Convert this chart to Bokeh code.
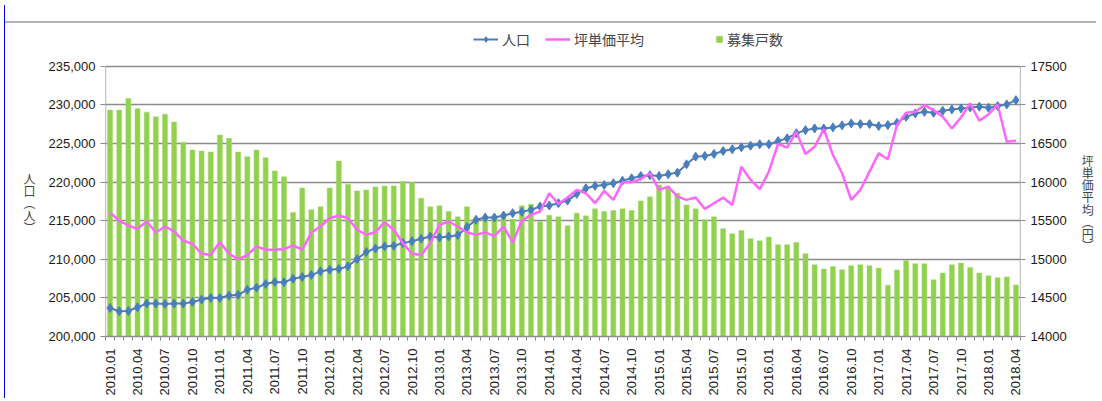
import math
from bokeh.plotting import figure
from bokeh.models import (Range1d, LinearAxis, FixedTicker, NumeralTickFormatter,
                          Legend, LegendItem, ColumnDataSource, InlineStyleSheet)
from bokeh.embed import file_html
from bokeh.resources import INLINE

# ---- data -------------------------------------------------------------
months = [f"{y}.{m:02d}" for y in range(2010, 2019) for m in range(1, 13)][:100]

population = [
    203700, 203270, 203300, 203790, 204260, 204260, 204220, 204260, 204260, 204480,
    204780, 205000, 205000, 205300, 205400, 206070, 206330, 206800, 207060, 207030,
    207490, 207710, 207960, 208440, 208660, 208750, 209090, 210040, 210950, 211410,
    211670, 211750, 212100, 212350, 212660, 212960, 212830, 212960, 213130, 214170,
    215120, 215410, 215410, 215670, 215980, 216150, 216410, 216840, 216970, 217270,
    217610, 218480, 219210, 219510, 219640, 219860, 220190, 220500, 220800, 220890,
    220800, 221020, 221230, 222310, 223300, 223390, 223650, 224030, 224250, 224510,
    224720, 224900, 224900, 225320, 225670, 226320, 226740, 226960, 226960, 227090,
    227350, 227610, 227520, 227520, 227260, 227390, 227690, 228460, 228900, 229110,
    228980, 229240, 229420, 229550, 229680, 229770, 229640, 229850, 230070, 230620,
]

price = [
    15606, 15499, 15438, 15395, 15490, 15348, 15425, 15361, 15240, 15202,
    15072, 15059, 15223, 15072, 15003, 15055, 15167, 15124, 15124, 15133,
    15180, 15124, 15348, 15425, 15533, 15568, 15533, 15382, 15318, 15352,
    15481, 15382, 15210, 15072, 15059, 15210, 15447, 15490, 15425, 15348,
    15320, 15348, 15300, 15425, 15219, 15500, 15576, 15619, 15856, 15718,
    15800, 15899, 15856, 15727, 15886, 15770, 15998, 15998, 16041, 16115,
    15899, 15942, 15813, 15770, 15800, 15654, 15727, 15800, 15705, 16200,
    16028, 15908, 16136, 16494, 16446, 16653, 16364, 16459, 16687, 16351,
    16115, 15770, 15899, 16136, 16373, 16296, 16739, 16898, 16911, 16997,
    16933, 16846, 16696, 16838, 17019, 16795, 16877, 17006, 16523, 16536,
]

# 募集戸数 (bar heights, read against the left axis)
units = [
    229330, 229330, 230840, 229550, 229070, 228460, 228810, 227780, 225160, 224160,
    224030, 223900, 226100, 225670, 223900, 223300, 224160, 223170, 221450, 220710,
    216060, 219250, 216410, 216800, 219250, 222740, 219730, 218860, 218990, 219380,
    219510, 219510, 220070, 219940, 217920, 216800, 216930, 216190, 215500, 216800,
    215100, 215400, 215500, 215600, 215210, 216930, 217150, 214900, 215720, 215500,
    214340, 215980, 215630, 216540, 216190, 216320, 216540, 216320, 217570, 218090,
    219640, 219340, 218570, 217050, 216540, 215120, 215500, 213970, 213310, 213730,
    212660, 212400, 212880, 211890, 211890, 212180, 210720, 209300, 208750, 209080,
    208660, 209170, 209300, 209170, 208880, 206630, 208620, 209860, 209430, 209430,
    207360, 208230, 209300, 209520, 208950, 208230, 207880, 207620, 207710, 206680,
]

left_ticks = list(range(200000, 235001, 5000))
right_ticks = list(range(14000, 17501, 500))

# ---- layout geometry (pixels) ----------------------------------------
FRAME_TOP = 20          # frame extended upward to host the legend
AXIS_TOP = 66           # where the 235,000 / 17500 line sits
AXIS_BOTTOM = 337
axis_px = AXIS_BOTTOM - AXIS_TOP
extra_px = AXIS_TOP - FRAME_TOP
left_span = left_ticks[-1] - left_ticks[0]
right_span = right_ticks[-1] - right_ticks[0]
y_end_left = left_ticks[-1] + extra_px * left_span / axis_px
y_end_right = right_ticks[-1] + extra_px * right_span / axis_px

idx = list(range(len(months)))
src = ColumnDataSource(dict(x=idx, month=months, pop=population, price=price, units=units))

GRID = "#8c8c8c"
NUMFONT = "Liberation Sans"
JPFONT = "Noto Sans CJK JP"

# frame lines of the surrounding sheet (grey rule on top, blue rule at left)
sheet_css = InlineStyleSheet(css="""
:host {
  background:
    linear-gradient(#0000e0, #0000e0) 4px 5px / 1px 100% no-repeat,
    linear-gradient(#b4b4b4, #b4b4b4) 4px 21px / 100% 2px no-repeat,
    #ffffff;
}
""")

p = figure(width=1096, height=398, output_backend="svg", toolbar_location=None,
           x_range=Range1d(-0.5, len(months) - 0.5),
           y_range=Range1d(left_ticks[0], y_end_left),
           min_border_left=105, min_border_right=66, min_border_top=FRAME_TOP,
           min_border_bottom=398 - AXIS_BOTTOM,
           stylesheets=[sheet_css])
p.extra_y_ranges = {"price": Range1d(right_ticks[0], y_end_right)}
p.outline_line_color = None
p.background_fill_alpha = 0
p.border_fill_alpha = 0

p.xgrid.visible = False
p.ygrid.ticker = FixedTicker(ticks=left_ticks)
p.ygrid.grid_line_color = GRID
p.ygrid.grid_line_width = 1.3

bars = p.vbar(x="x", top="units", bottom=left_ticks[0], width=0.55,
              fill_color="#92D050", line_color="#a6dc6c", line_width=0.5, source=src)
pop_line = p.line(x="x", y="pop", line_color="#4A7EBB", line_width=2, source=src)
pop_pts = p.scatter(x="x", y="pop", marker="diamond", size=9, fill_color="#4A7EBB",
                    line_color="#4A7EBB", source=src)
price_line = p.line(x="x", y="price", y_range_name="price", line_color="#FF66FF",
                    line_width=2.5, source=src)

# vertical axis lines only over the value span
p.segment(x0=[-0.5, len(months) - 0.5], x1=[-0.5, len(months) - 0.5],
          y0=[left_ticks[0]] * 2, y1=[left_ticks[-1]] * 2,
          line_color=GRID, line_width=1.3)

# x axis
xa = p.xaxis[0]
xa.ticker = FixedTicker(ticks=idx[::3], minor_ticks=[i - 0.5 for i in range(len(months) + 1)])
xa.major_label_overrides = {i: months[i] for i in idx[::3]}
xa.major_label_orientation = math.pi / 2
xa.major_label_text_font = NUMFONT
xa.major_label_text_font_size = "13px"
xa.major_label_text_color = "#1a1a1a"
xa.major_label_standoff = 6
xa.major_tick_line_color = None
xa.minor_tick_line_color = GRID
xa.minor_tick_out = 4
xa.minor_tick_in = 0
xa.axis_line_color = GRID
xa.axis_line_width = 1.3

# left axis
ya = p.yaxis[0]
ya.ticker = FixedTicker(ticks=left_ticks)
ya.formatter = NumeralTickFormatter(format="0,0")
ya.major_label_text_font = NUMFONT
ya.major_label_text_font_size = "13px"
ya.major_label_text_color = "#1a1a1a"
ya.major_tick_out = 5
ya.major_tick_in = 0
ya.major_tick_line_color = GRID
ya.minor_tick_line_color = None
ya.axis_line_color = None
ya.axis_label = "\n\n\n\n人\n口\n︵\n人\n︶"
ya.axis_label_orientation = "horizontal"
ya.axis_label_text_font = JPFONT
ya.axis_label_text_font_size = "12px"
ya.axis_label_text_font_style = "normal"
ya.axis_label_text_line_height = 0.72
ya.axis_label_standoff = 10

# right axis
ra = LinearAxis(y_range_name="price", ticker=FixedTicker(ticks=right_ticks))
ra.major_label_text_font = NUMFONT
ra.major_label_text_font_size = "13px"
ra.major_label_text_color = "#1a1a1a"
ra.major_tick_out = 5
ra.major_tick_in = 0
ra.major_tick_line_color = GRID
ra.minor_tick_line_color = None
ra.axis_line_color = None
ra.axis_label = "\n\n\n\n坪\n単\n価\n平\n均\n︵\n円\n︶"
ra.axis_label_orientation = "horizontal"
ra.axis_label_text_font = JPFONT
ra.axis_label_text_font_size = "12px"
ra.axis_label_text_font_style = "normal"
ra.axis_label_text_line_height = 0.72
ra.axis_label_standoff = 12
p.add_layout(ra, "right")

# legends (inside the extended frame, above the value area)
leg_y = AXIS_BOTTOM - 50
leg1 = Legend(items=[LegendItem(label="人口", renderers=[pop_line, pop_pts]),
                     LegendItem(label="坪単価平均", renderers=[price_line])],
              orientation="horizontal", location=(368, leg_y),
              glyph_width=25, glyph_height=14, label_standoff=4, spacing=15,
              label_height=20,
              label_text_font=JPFONT, label_text_font_size="14px",
              padding=0, margin=0, border_line_color=None, background_fill_alpha=0)
leg2 = Legend(items=[LegendItem(label="募集戸数", renderers=[bars])],
              orientation="horizontal", location=(610, leg_y),
              glyph_width=8, glyph_height=8, label_standoff=4, label_height=20,
              label_text_font=JPFONT, label_text_font_size="14px",
              padding=0, margin=0, border_line_color=None, background_fill_alpha=0)
p.add_layout(leg1)
p.add_layout(leg2)

open("out.html", "w").write(file_html(p, INLINE))
